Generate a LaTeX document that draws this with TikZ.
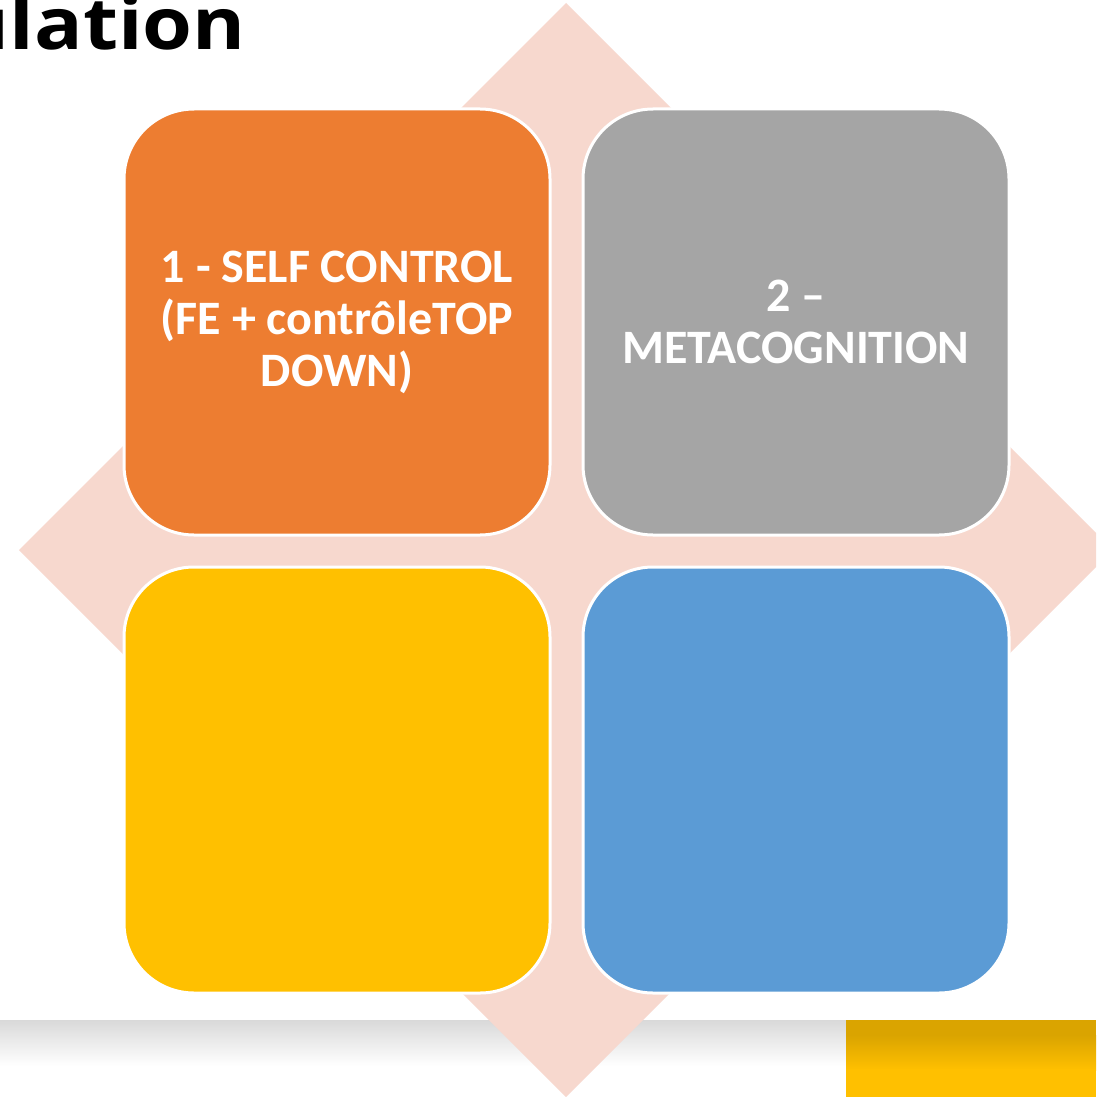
\documentclass[tikz,border=0pt]{standalone}
\usepackage{xcolor}
\usepackage{graphicx}
\usepackage{fontspec}
\setmainfont{Carlito}
\newfontfamily\titlefont{Open Sans}
\usepackage{tikz}
\usetikzlibrary{calc}
\usetikzlibrary{shapes}
\usetikzlibrary{positioning}

\definecolor{tileorange}{HTML}{ED7D31}
\definecolor{tilegray}{HTML}{A5A5A5}
\definecolor{tileyellow}{HTML}{FFC000}
\definecolor{tileblue}{HTML}{5B9BD5}
\definecolor{diamondpink}{HTML}{F7D8CE}
\definecolor{bargray}{HTML}{D9D9D9}
\definecolor{bargold}{HTML}{DAA400}

\tikzset{
  tile/.style={rectangle, rounded corners=70pt, draw=white, line width=3pt,
    minimum width=426pt, minimum height=426pt, inner sep=0pt,
    text=white, align=center, font=\bfseries\fontsize{48}{52}\selectfont},
}

\begin{document}
\begin{tikzpicture}[x=1pt, y=-1pt]
\useasboundingbox (0, 0) rectangle (1096, 1097);
\clip (0, 0) rectangle (1096, 1097);
\fill [white] (0, 0) rectangle (1096, 1097);
% bottom band
\shade [top color=bargray, bottom color=white] (0, 1020) rectangle (846, 1066);
\fill [bargold] (846, 1020) rectangle (1096, 1036);
\shade [top color=bargold, bottom color=tileyellow] (846, 1035) rectangle (1096, 1070);
\fill [tileyellow] (846, 1069) rectangle (1096, 1097);
% title
\node [anchor=base east, inner sep=0pt, font=\titlefont\bfseries\fontsize{72}{82}\selectfont] (title) at (246, 50) {\scalebox{1.12}[1]{ulation}};
% diamond
\coordinate (C) at (566, 550);
\fill [diamondpink] ($(C)+(0, -547)$) -- ($(C)+(547, 0)$) -- ($(C)+(0, 547)$) -- ($(C)+(-547, 0)$) -- cycle;
% tiles
\node [tile, fill=tileorange] (self) at (337, 322) {1 - SELF CONTROL\\(FE + contrôleTOP\\DOWN)};
\node [tile, fill=tilegray] (meta) at (796, 322) {2 --\\METACOGNITION};
\node [tile, fill=tileyellow] (third) at (337, 780) {};
\node [tile, fill=tileblue] (fourth) at (796, 780) {};
\end{tikzpicture}
\end{document}
